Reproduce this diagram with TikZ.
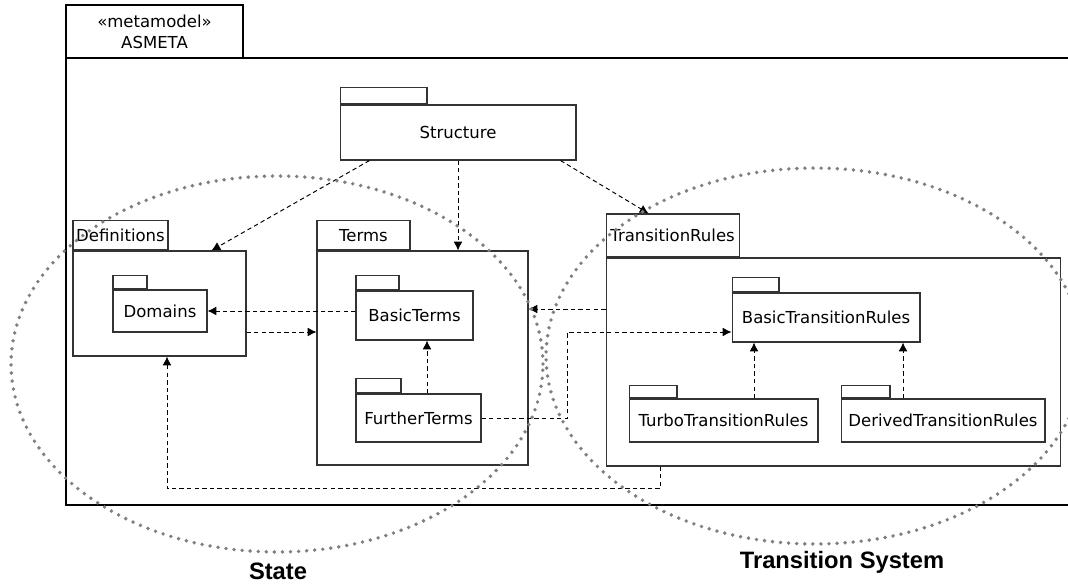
\documentclass[tikz,border=0pt]{standalone}
\usepackage{fontspec}
\setmainfont{DejaVu Sans}
\newfontfamily\regionfont{Liberation Sans}
\usetikzlibrary{calc,arrows.meta}
\tikzset{
  pkg/.style={draw=black!80, line width=0.6pt, inner sep=0pt, font=\fontsize{9.4}{11}\selectfont},
  pkgtab/.style={pkg, anchor=south west},
  dep/.style={draw=black, line width=0.55pt, dash pattern=on 2.5pt off 1.8pt, -{Latex[length=5pt,width=5pt]}},
  region/.style={draw=black!50, line width=2.2pt, line cap=round, dash pattern=on 0pt off 4.6pt},
  regionlabel/.style={font=\regionfont\bfseries\fontsize{13.5}{16}\selectfont}
}

\begin{document}
\begin{tikzpicture}[x=0.02cm, y=-0.02cm]
			%%%%% FRAME %%%%%
			\useasboundingbox (0,0) rectangle (1068,584);
			
			\node[pkg, draw=black, minimum width=3.54cm, minimum height=1.06cm, align=center] (asmetatab) at (154.5,31.5) {«metamodel»\\[1pt]ASMETA};
			\draw[line width=0.6pt] (1068,58) -- (66,58) -- (66,505) -- (1068,505);
			
			%%%%% PACKAGES %%%%%
			\node[pkg, minimum width=4.72cm, minimum height=1.1cm] (structure) at (458,132.5) {Structure};
			\node[pkgtab, minimum width=1.74cm, minimum height=0.32cm] (structuretab) at (structure.north west) {};
			
			\node[pkg, minimum width=3.46cm, minimum height=2.1cm] (definitions) at (159.5,303.5) {};
			\node[pkgtab, minimum width=1.9cm, minimum height=0.58cm] (deftab) at (definitions.north west) {Definitions};
			\node[pkg, minimum width=1.88cm, minimum height=0.84cm] (domains) at (160,311) {Domains};
			\node[pkgtab, minimum width=0.68cm, minimum height=0.26cm] (domainstab) at (domains.north west) {};
			
			\node[pkg, minimum width=4.22cm, minimum height=4.28cm] (terms) at (422.5,358) {};
			\node[pkgtab, minimum width=1.86cm, minimum height=0.58cm] (termstab) at (terms.north west) {Terms};
			\node[pkg, minimum width=2.34cm, minimum height=0.98cm] (basicterms) at (414.5,315.5) {BasicTerms};
			\node[pkgtab, minimum width=0.86cm, minimum height=0.28cm] (basictermstab) at (basicterms.north west) {};
			\node[pkg, minimum width=2.5cm, minimum height=0.96cm] (furtherterms) at (418.5,418) {FurtherTerms};
			\node[pkgtab, minimum width=0.9cm, minimum height=0.28cm] (furthertermstab) at (furtherterms.north west) {};
			
			\node[pkg, minimum width=9.1cm, minimum height=4.16cm] (transitionrules) at (833.5,362) {};
			\node[pkgtab, minimum width=2.66cm, minimum height=0.86cm] (trtab) at (transitionrules.north west) {TransitionRules};
			\node[pkg, minimum width=3.76cm, minimum height=0.98cm] (basictr) at (826,317.5) {BasicTransitionRules};
			\node[pkgtab, minimum width=0.94cm, minimum height=0.28cm] (basictrtab) at (basictr.north west) {};
			\node[pkg, minimum width=3.78cm, minimum height=0.86cm] (turbotr) at (723.5,420.5) {TurboTransitionRules};
			\node[pkgtab, minimum width=0.96cm, minimum height=0.24cm] (turbotrtab) at (turbotr.north west) {};
			\node[pkg, minimum width=4.08cm, minimum height=0.86cm] (derivedtr) at (943,420.5) {DerivedTransitionRules};
			\node[pkgtab, minimum width=0.98cm, minimum height=0.24cm] (derivedtrtab) at (derivedtr.north west) {};
			
			%%%%% DEPENDENCIES %%%%%
			\draw[dep] ([xshift=0.6cm]structure.south west) -- ([xshift=2.78cm]definitions.north west);
			\draw[dep] (structure.south) -- (structure.south |- terms.north);
			\draw[dep] ([xshift=-0.32cm]structure.south east) -- ([xshift=0.86cm]trtab.north west);
			
			\draw[dep] (basicterms.west |- domains.east) -- (domains.east);
			\draw[dep] ([yshift=-0.57cm]definitions.east) -- ([yshift=-0.57cm]definitions.east -| terms.west);
			\draw[dep] ([yshift=1.06cm]transitionrules.west) -- ([yshift=1.06cm]transitionrules.west -| terms.east);
			\draw[dep] ([xshift=0.17cm]furtherterms.north) -- ([xshift=0.17cm]furtherterms.north |- basicterms.south);
			\draw[dep] (furtherterms.east) -- ++(86,0) |- ([yshift=-0.29cm]basictr.west);
			
			\draw[dep] ([xshift=0.61cm]turbotr.north) -- ([xshift=0.61cm]turbotr.north |- basictr.south);
			\draw[dep] ([xshift=-0.8cm]derivedtr.north) -- ([xshift=-0.8cm]derivedtr.north |- basictr.south);
			\draw[dep] ([xshift=1.1cm]transitionrules.south west) -- ++(0,22) -| ([xshift=0.15cm]definitions.south);
			
			%%%%% REGIONS %%%%%
			\draw[region] (277,364) ellipse [x radius=5.32cm, y radius=3.76cm];
			\draw[region] (815,356) ellipse [x radius=5.38cm, y radius=3.76cm];
			\node[regionlabel] (statelabel) at (278,571) {State};
			\node[regionlabel] (tslabel) at (842,562) {Transition System};
		\end{tikzpicture}
\end{document}
